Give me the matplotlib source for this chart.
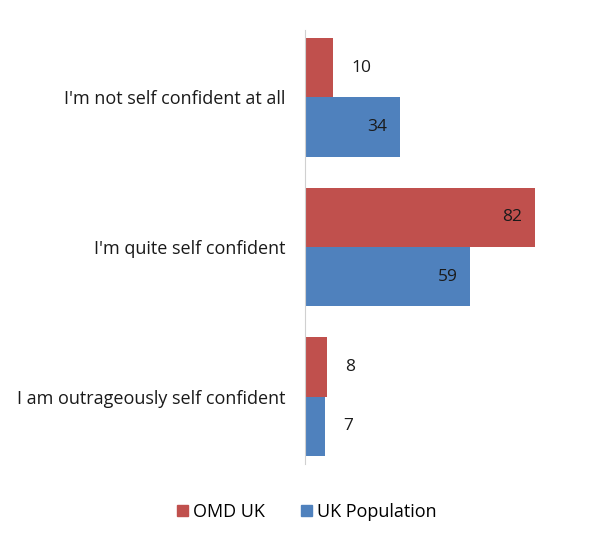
import matplotlib
matplotlib.use("Agg")
import matplotlib.pyplot as plt
from matplotlib.patches import Patch

categories = ["I'm not self confident at all",
              "I'm quite self confident",
              "I am outrageously self confident"]
omd_uk = [10, 82, 8]
uk_pop = [34, 59, 7]
series_names = ["OMD UK", "UK Population"]

RED = "#C0504D"
BLUE = "#4F81BD"

plt.rcParams['font.family'] = ['Open Sans', 'DejaVu Sans']

fig = plt.figure(figsize=(6.08, 5.43), dpi=100)
W, H = 608, 543
ax = fig.add_axes([305 / W, 1 - 464 / H, 280 / W, (464 - 30) / H])

h = 0.396
ypos = list(range(len(categories)))
ax.barh([y - h / 2 for y in ypos], omd_uk, height=h, color=RED)
ax.barh([y + h / 2 for y in ypos], uk_pop, height=h, color=BLUE)

# value labels: small bars get them outside, large ones inside the end
for vals, off in ((omd_uk, -h / 2), (uk_pop, h / 2)):
    for y, v in zip(ypos, vals):
        if v > 30:
            ax.text(v - 4.5, y + off, str(v), ha='right', va='center',
                    fontsize=12.5, color='#1a1a1a')
        else:
            ax.text(v + 6.5, y + off, str(v), ha='left', va='center',
                    fontsize=12.5, color='#1a1a1a')

ax.set_xlim(0, 100)
ax.set_ylim(2.45, -0.45)
ax.set_yticks(ypos)
ax.set_yticklabels(categories, fontsize=13, color='#1a1a1a')
ax.tick_params(axis='y', length=0, pad=14)
ax.set_xticks([])
for s in ('top', 'right', 'bottom'):
    ax.spines[s].set_visible(False)
ax.spines['left'].set_color('#d0d0d0')
ax.patch.set_alpha(0)

handles = [Patch(color=RED, label=series_names[0]),
           Patch(color=BLUE, label=series_names[1])]
fig.legend(handles=handles, loc='center', bbox_to_anchor=(307 / W, 1 - 512 / H),
           ncol=2, frameon=False, fontsize=13, handlelength=0.6,
           handleheight=0.6, handletextpad=0.3, columnspacing=2.0)

fig.savefig("out.png", dpi=100)
